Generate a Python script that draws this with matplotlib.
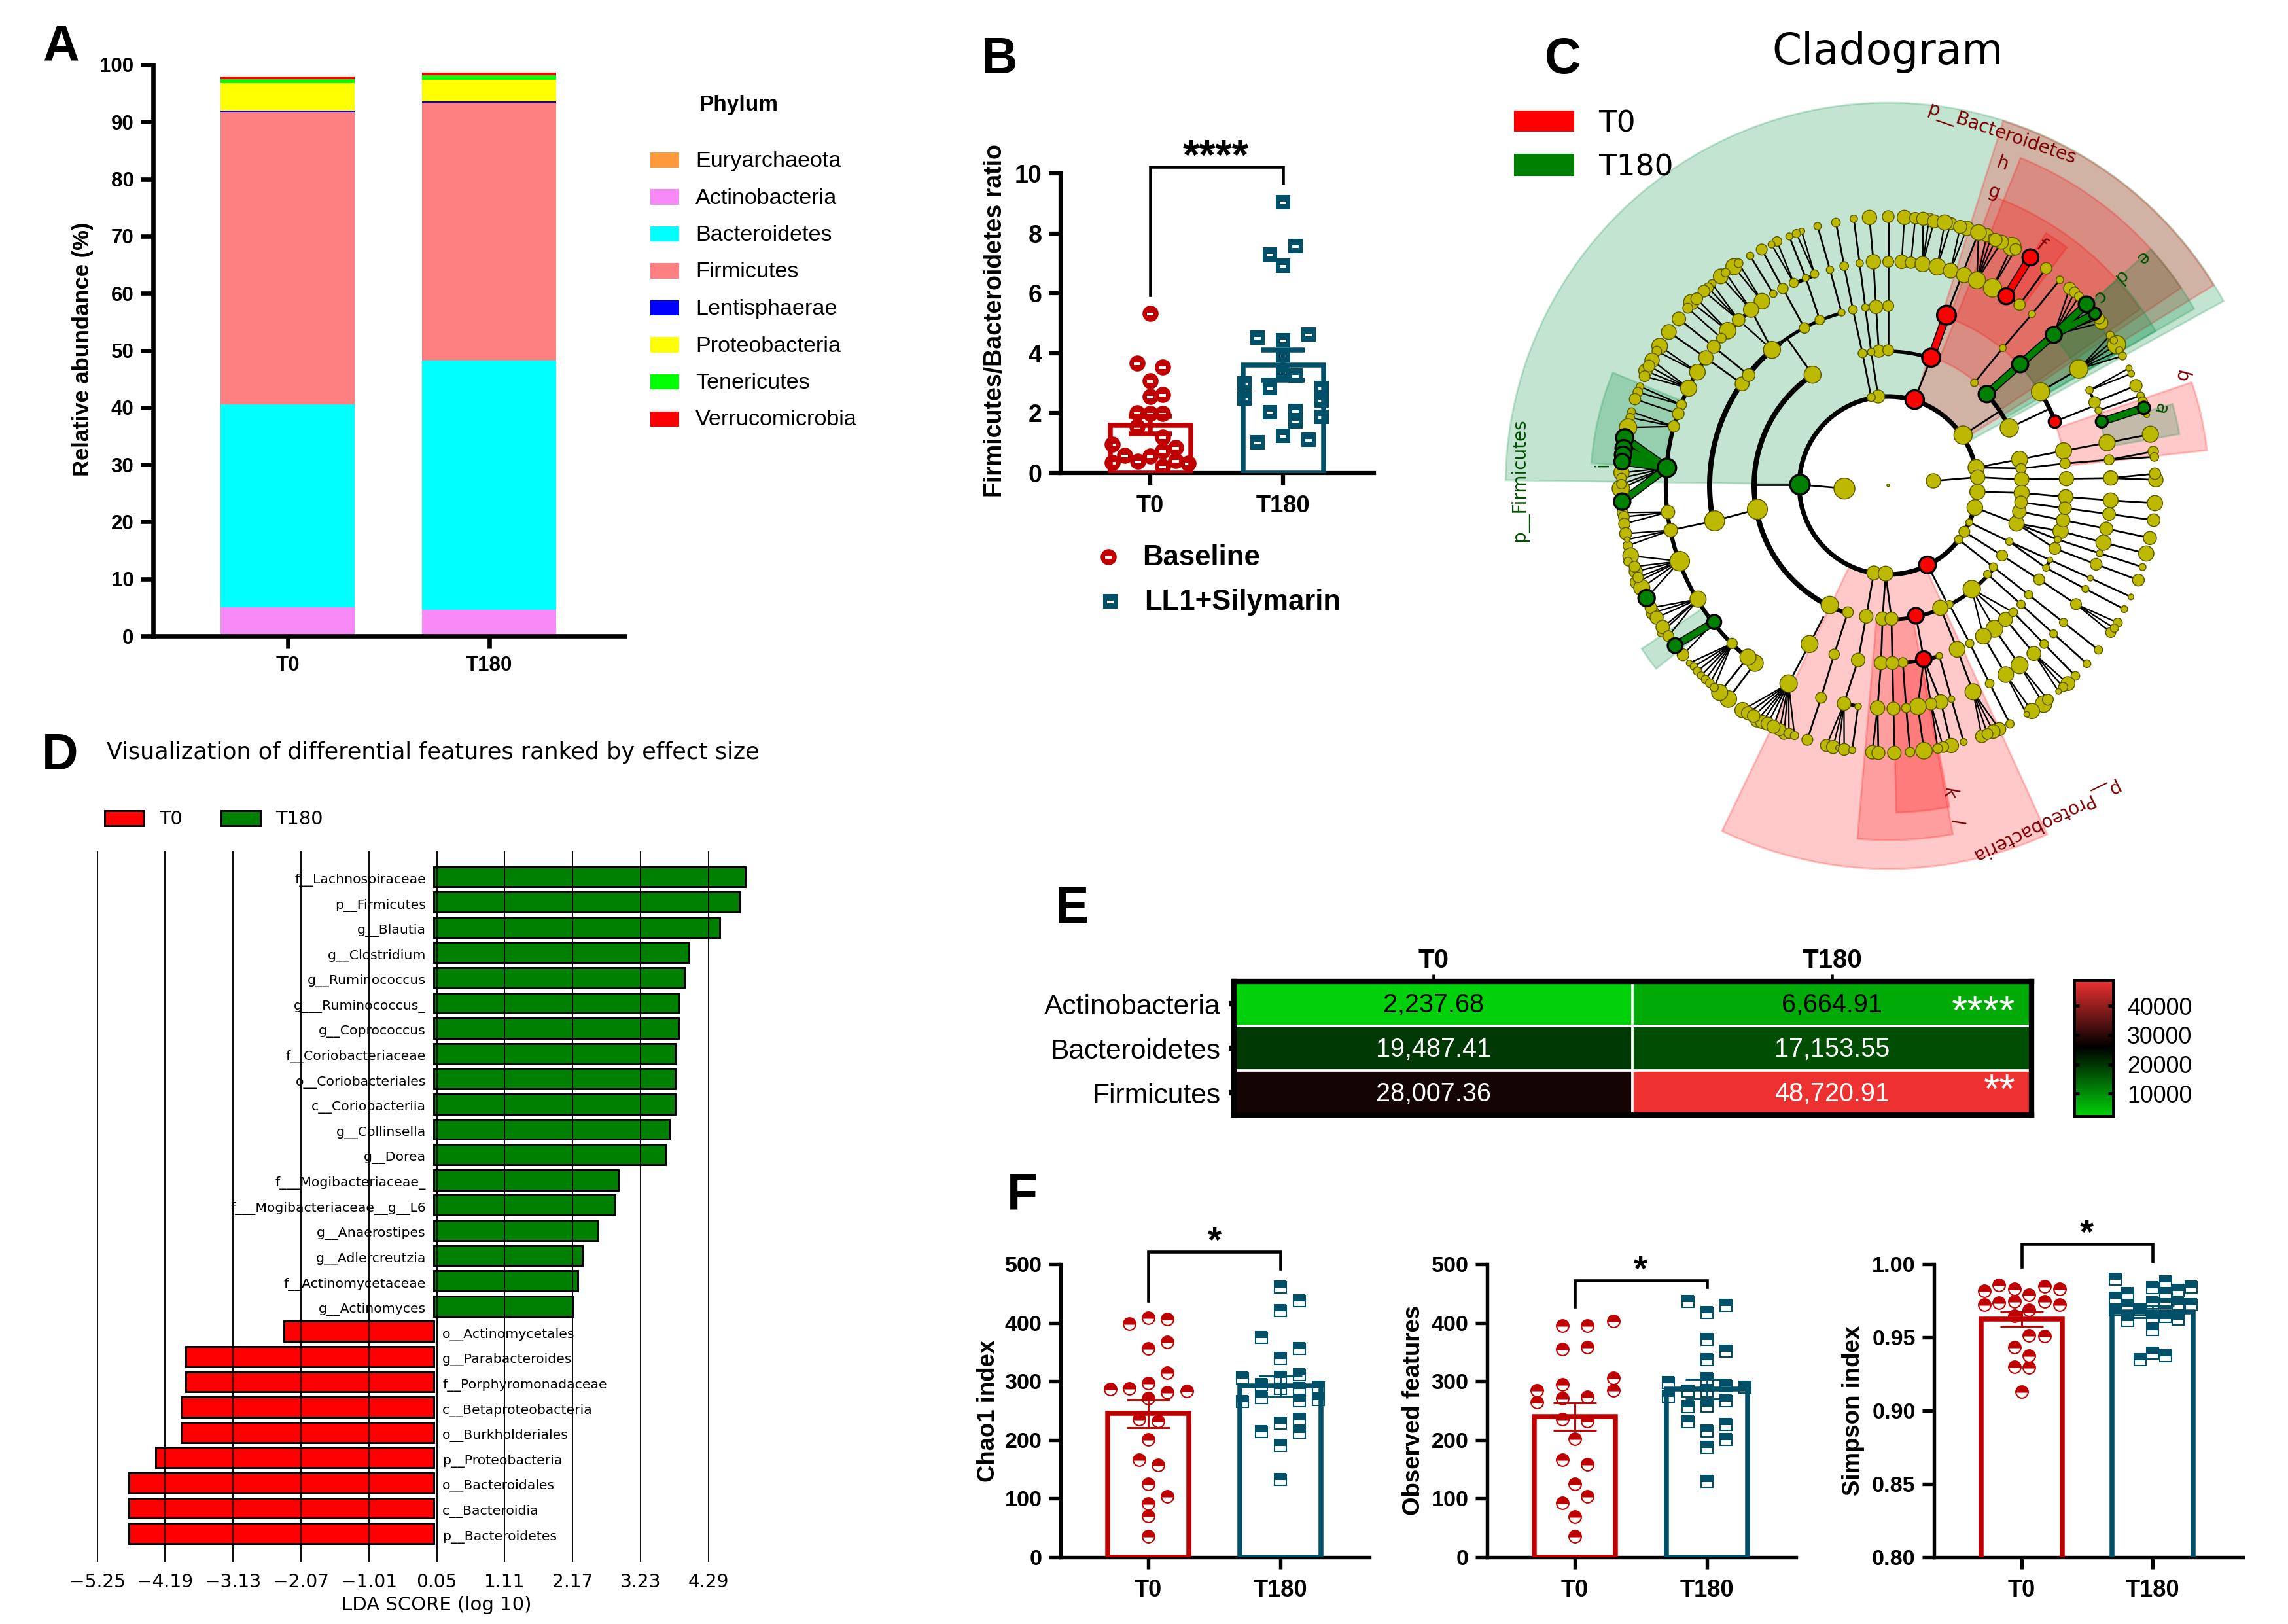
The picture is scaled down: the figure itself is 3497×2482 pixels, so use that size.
import numpy as np
import matplotlib
matplotlib.use('Agg')
import matplotlib.pyplot as plt
from matplotlib.colors import LinearSegmentedColormap
from matplotlib.patches import Rectangle
from matplotlib.path import Path

W, H = 3497, 2482
plt.rcParams['font.family'] = ['Liberation Sans', 'DejaVu Sans']
fig = plt.figure(figsize=(W / 300, H / 300), dpi=300, facecolor='white')

RED = '#C00000'
TEAL = '#00506A'

# panel A
phyla = ['Euryarchaeota', 'Actinobacteria', 'Bacteroidetes', 'Firmicutes',
         'Lentisphaerae', 'Proteobacteria', 'Tenericutes', 'Verrucomicrobia']
phyla_colors = ['#FF9A3C', '#F78AF7', '#00FFFF', '#FF8080', '#0000FF', '#FFFF00', '#00FF00', '#FF0000']
groups = ['T0', 'T180']
abund_t0 = [0.01, 5.0, 35.5, 51.2, 0.25, 4.85, 0.7, 0.4]
abund_t180 = [0.01, 4.6, 43.6, 45.2, 0.2, 3.7, 0.9, 0.4]

# panel B
b_t0_x = [0, -.1, .095, 0, 0, .095, -.1, 0, .095, -.1, .095, -.288, .193, .095, -.193, 0, -.288, -.095, .193, .288, .095]
b_t0_y = [5.32, 3.66, 3.54, 3.08, 2.56, 2.63, 2.0, 1.98, 1.98, 1.56, 1.2, .96, .86, .75, .58, .56, .36, .39, .42, .33, .22]
b_t180_x = [0, .095, -.098, 0, -.193, 0, .19, 0, 0, .095, -.29, -.098, .29, -.29, .29, -.098, .095, .29, .095, 0, -.193, .19]
b_t180_y = [9.05, 7.58, 7.3, 6.92, 4.51, 4.44, 4.62, 3.93, 3.36, 3.26, 3.0, 2.84, 2.84, 2.49, 2.42, 2.03, 2.07, 1.87, 1.73, 1.25, 1.03, 1.11]
b_means = [1.6, 3.6]
b_errs = [.3, .5]

# panel D
lda_names = ['f__Lachnospiraceae', 'p__Firmicutes', 'g__Blautia', 'g__Clostridium', 'g__Ruminococcus',
             'g___Ruminococcus_', 'g__Coprococcus', 'f__Coriobacteriaceae', 'o__Coriobacteriales',
             'c__Coriobacteriia', 'g__Collinsella', 'g__Dorea', 'f___Mogibacteriaceae_',
             'f___Mogibacteriaceae__g__L6', 'g__Anaerostipes', 'g__Adlercreutzia', 'f__Actinomycetaceae',
             'g__Actinomyces', 'o__Actinomycetales', 'g__Parabacteroides', 'f__Porphyromonadaceae',
             'c__Betaproteobacteria', 'o__Burkholderiales', 'p__Proteobacteria', 'o__Bacteroidales',
             'c__Bacteroidia', 'p__Bacteroidetes']
lda_scores = [4.87, 4.77, 4.47, 3.99, 3.92, 3.83, 3.82, 3.77, 3.77, 3.77, 3.68, 3.62, 2.88, 2.83, 2.57, 2.32,
              2.25, 2.18, -2.34, -3.87, -3.87, -3.94, -3.94, -4.34, -4.76, -4.76, -4.76]
lda_ticks = [-5.25, -4.19, -3.13, -2.07, -1.01, 0.05, 1.11, 2.17, 3.23, 4.29]

# panel E
heat_rows = ['Actinobacteria', 'Bacteroidetes', 'Firmicutes']
heat_t0 = [2237.68, 19487.41, 28007.36]
heat_t180 = [6664.91, 17153.55, 48720.91]

# panel F
chao_t0_x = [-.285, -.142, 0, .146, .29, -.142, 0, .146, .146, 0, .146, 0, -.07, .076, 0, -.07, .076, 0, .146, 0, 0, 0]
chao_t0_y = [287, 288, 297, 281, 284, 398, 408, 406, 367, 356, 315, 271, 236, 232, 201, 166, 157, 125, 104, 92, 70, 36]
chao_t180_x = [0, .142, 0, -.146, .142, 0, -.288, 0, .142, -.146, .285, 0, .142, -.288, -.146, .142, .285, 0, .142, -.146, .142, 0, 0]
chao_t180_y = [461, 438, 421, 375, 356, 339, 306, 307, 311, 295, 290, 288, 288, 266, 272, 267, 269, 229, 236, 214, 213, 191, 133]
obs_t0_x = [-.285, -.285, -.095, .095, .29, -.095, .095, .29, .29, -.095, -.095, .095, -.095, .095, 0, -.095, .095, 0, .095, -.095, 0, 0]
obs_t0_y = [285, 264, 395, 395, 403, 355, 358, 306, 285, 295, 271, 273, 235, 232, 202, 166, 158, 125, 104, 93, 69, 36]
obs_t180_x = [-.142, 0, .145, 0, .145, 0, -.29, 0, .145, -.142, .288, 0, -.29, .145, -.142, 0, -.142, .145, 0, .145, 0, 0]
obs_t180_y = [436, 417, 430, 372, 352, 337, 298, 305, 292, 284, 290, 284, 274, 267, 257, 258, 231, 227, 215, 201, 187, 129]
simp_t0_x = [-.287, -.174, -.057, .057, .177, .29, -.287, -.174, -.057, .177, .29, .057, -.057, .057, .177, -.057, .057, -.057, .057, 0]
simp_t0_y = [.9815, .9857, .983, .979, .9847, .9829, .9725, .9735, .9745, .9747, .9723, .9688, .9646, .9512, .951, .9433, .9373, .93, .9294, .9128]
simp_t180_x = [-.287, -.287, -.19, 0, .1, .1, .197, .294, .1, 0, .197, .294, -.287, -.19, -.093, -.19, 0, .1, .197, 0, 0, -.093, .1]
simp_t180_y = [.9896, .9767, .9797, .984, .988, .9805, .982, .9845, .9741, .9735, .9727, .9725, .9688, .9715, .9688, .9618, .9638, .9642, .9626, .9552, .9393, .9349, .9373]

# panel C, node positions read per quadrant crop around the centre of the wheel (x, y, size)
q1_nodes = [(1222,67,66),(1308,63,54),(1150,73,34),(1068,90,40),(984,107,34),(911,130,28),(887,141,38),(854,154,32),
            (798,177,44),(773,191,32),(728,214,50),(675,243,34),(600,293,74),(622,277,40),(540,337,68),(562,320,40),
            (500,370,36),(483,390,46),(463,405,54),(405,455,70),(430,440,54),(389,483,46),(348,532,62),(302,592,68),
            (260,657,72),(247,680,44),(225,722,66),(195,770,62),(211,748,54),(191,795,50),(170,842,34),(160,868,44),
            (147,900,52),(131,958,36),(125,985,40),(115,1030,80),(85,1238,70),(85,1262,44),(82,1310,80),(85,1290,44),
            (1240,270,66),(1308,270,50),(1177,277,34),(1106,290,40),(1041,307,34),(970,326,38),(930,344,32),(875,367,42),
            (825,393,48),(781,417,34),(729,451,72),(679,490,70),(622,537,58),(572,586,76),(543,620,44),(508,660,60),
            (472,711,66),(433,776,72),(393,850,74),(360,926,46),(345,967,54),(325,1025,52),
            (1252,477,62),(1308,473,50),(1203,480,34),(1146,490,40),(1094,503,32),(994,537,44),(924,574,48),(775,674,78),
            (638,830,64),(668,790,58),(1265,680,56),(1308,676,50),(1230,684,34),(1190,690,40),(961,788,78),
            (1262,888,60),(1230,892,38),(1107,1310,96)]
q2_nodes = [(92,67,66),(142,70,52),(205,75,56),(178,73,60),(228,85,60),(305,95,56),(277,90,70),(378,117,66),(348,110,60),
            (470,148,60),(432,136,72),(490,157,26),(585,200,84),(537,180,64),(510,170,60),(602,213,52),
            (80,270,62),(122,274,52),(176,281,70),(243,293,76),(304,311,68),(366,331,70),(425,355,78),(496,390,84),
            (620,467,52),(742,300,52),(805,353,34),(850,392,56),(872,410,48),(893,430,42),(995,550,60),(985,530,50),
            (1065,650,84),(1036,607,36),(1052,630,34),(1078,677,34),(1092,702,36),(677,510,32),(892,762,84),(716,866,84),
            (543,666,32),(413,825,34),(573,1032,84),(361,1065,84),(1122,758,28),(1132,783,30),(1154,838,56),(941,859,34),
            (964,915,52),(982,952,32),(1175,884,34),(1185,912,44),(1203,972,26),(1220,1061,74),(1021,1100,74),(822,1137,74),
            (620,1176,74),(1233,1140,48),(1238,1165,40),(1031,1178,46),(829,1195,48),(627,1218,46),(421,1214,74),(428,1258,66),
            (225,1275,66),(1245,1270,66),(1241,1242,52),(1038,1262,66),(835,1265,66),(630,1268,66),(18,1295,12)]
q3_nodes = [(708,115,92),(512,168,92),(298,128,62),(311,211,62),(352,353,90),(436,527,74),(592,730,48),(697,820,76),(665,793,74),
            (90,130,50),(96,150,50),(98,182,52),(104,227,56),(114,282,44),(111,254,26),(127,328,72),(115,355,40),(150,400,60),
            (145,378,50),(155,450,60),(178,475,74),(161,427,48),(228,590,60),(220,567,54),(246,612,60),(268,680,40),(274,655,62),
            (300,697,50),(367,782,54),(396,820,28),(417,836,34),(433,857,38),(450,877,34),(470,895,38),(490,912,40),(575,985,76),
            (535,955,74),(510,932,38),(640,1036,70),(665,1050,60),(705,1085,56),(730,1090,60),(755,1098,60),(691,1063,58),
            (830,1145,50),(810,1125,56),(782,1112,60),(853,1142,46),(878,1152,38),(1040,554,80),(1123,587,50),(947,733,78),(851,914,80),
            (1242,407,64),(1296,410,68),(1207,606,62),(1282,617,62),(1060,780,48),(1170,806,62),(1275,820,62),(1000,979,50),
            (1105,1006,62),(1170,1019,30),(1259,1026,66),(937,1172,50),(1025,1198,56),(1055,1205,60),(1080,1209,26),(1106,1216,54),
            (1143,1219,32),(1235,1229,62),(1263,1232,60)]
q4_nodes = [(427,35,70),(415,107,72),(390,175,32),(367,218,50),(341,254,38),
            (630,40,70),(606,180,70),(619,125,62),(627,83,58),(573,263,34),(540,327,50),(500,380,38),(473,413,36),(401,481,80),
            (298,551,36),(257,567,70),(33,617,60),(832,58,66),(808,215,70),(820,165,62),(829,110,58),(795,254,32),(782,295,54),
            (759,347,26),(742,384,32),(710,437,50),(662,507,38),(627,551,38),(505,663,78),(454,697,72),(556,620,64),(591,587,40),
            (392,730,38),(334,757,72),(252,787,30),(85,817,44),(37,820,60),
            (1038,74,68),(1005,268,70),(1018,204,60),(1031,137,58),(988,317,32),(971,367,54),(945,431,26),(922,480,32),(879,550,50),
            (822,634,38),(776,686,36),(733,733,40),(686,776,64),(620,830,78),(557,873,72),(483,914,40),(407,952,74),(308,986,30),
            (259,998,66),(214,1008,54),(154,1019,76),(100,1026,42),(42,1029,60),
            (1241,87,70),(1235,165,58),(1218,247,60),(1201,318,70),(1184,380,32),(1165,440,54),(1131,517,26),(1100,573,32),(1070,635,42),
            (1038,680,46),(1055,660,38),(982,760,38),(929,823,36),(876,879,40),(842,914,64),(820,930,42),(799,950,26),(730,1008,76),
            (750,988,50),(677,1040,70),(653,1055,26),(576,1099,38),(527,1123,60),(500,1134,62),(447,1156,58),(473,1145,50),(364,1182,32),
            (307,1198,66),(270,1205,50),(245,1212,44),(182,1222,76),(118,1228,44),(46,1232,62)]
q1_green = [(100,1077,84),(95,1125,80),(92,1155,80),(88,1187,76),(293,1215,90),(903,1292,96)]
q2_green = [(470,877,80),(623,740,78),(777,605,78),(965,508,58),(927,465,76),(997,1003,58),(1190,940,60)]
q3_green = [(88,80,80),(200,522,80),(331,740,72),(510,632,68)]
q2_red = [(670,250,78),(559,428,78),(285,515,92),(215,710,88),(139,902,90),(782,1003,60)]
q4_red = [(198,370,82),(145,603,76),(181,802,76)]

# black links between nodes: chains of nodes, then parents with a fan of children
q1_chains = [[(1230,892),(1190,690),(1146,490),(1106,290),(1068,90)],
             [(1262,888),(1230,684),(1203,480),(1177,277),(1150,73)],
             [(1265,680),(1252,477),(1240,270),(1222,67)],
             [(1308,676),(1308,473),(1308,270),(1308,63)],
             [(1094,503),(1041,307),(984,107)],
             [(994,537),(930,344),(854,154)],
             [(924,574),(825,393),(728,214)],
             [(850,630),(961,788)],
             [(781,417),(675,243)],[(775,674),(679,490)],[(668,790),(508,660),(348,532)],[(638,830),(472,711),(302,592)],
             [(903,1292),(700,1292)],[(903,1292),(1107,1310)]]
q1_fans = [((970,326),[(911,130),(887,141)]),((875,367),[(798,177),(773,191)]),((729,451),[(622,277),(600,293)]),
           ((679,490),[(540,337),(562,320)]),((622,537),[(500,370),(483,390),(463,405)]),((572,586),[(430,440),(405,455)]),
           ((543,620),[(389,483)]),((433,776),[(260,657),(247,680)]),((393,850),[(225,722),(211,748),(195,770),(191,795)]),
           ((360,926),[(170,842),(160,868)]),((345,967),[(147,900)]),((325,1025),[(131,958),(125,985),(115,1030)]),
           ((293,1215),[(85,1238),(85,1262),(85,1290),(82,1310)]),((775,674),[(622,537)])]
q2_chains = [[(139,902),(215,710)],[(285,515),(432,136)],[(413,825),(543,666),(677,510),(805,353)],[(559,428),(620,467),(742,300)],
             [(361,1065),(530,955)],[(573,1032),(745,950)],[(716,866),(892,762)],[(782,1003),(964,930)],
             [(225,1275),(428,1258),(630,1268),(835,1265),(1038,1262),(1241,1242)],[(1038,1262),(1245,1270)],
             [(421,1214),(620,1176),(822,1137),(1021,1100),(1220,1061)],[(421,1214),(627,1218),(829,1195),(1031,1178),(1233,1140)],
             [(1031,1178),(1238,1165)],[(20,270),(20,65)],[(964,915),(1154,838)],[(982,952),(1175,884)]]
q2_fans = [((80,270),[(92,67)]),((122,274),[(142,70)]),((176,281),[(178,73),(205,75),(228,85)]),((243,293),[(277,90),(305,95)]),
           ((304,311),[(348,110),(378,117)]),((425,355),[(432,136),(470,148),(490,157),(510,170),(537,180)]),
           ((496,390),[(585,200),(602,213)]),((777,605),[(850,392),(872,410),(893,430),(985,530),(995,550)]),
           ((892,762),[(1036,607),(1052,630),(1065,650),(1078,677),(1092,702)]),((941,859),[(1122,758),(1132,783)])]
q3_chains = [[(708,115),(512,168),(311,211)],[(1010,610),(947,733),(851,914)],[(1123,587),(1060,780),(1000,979),(937,1172)],
             [(1242,407),(1207,606),(1170,806),(1105,1006)],[(1296,410),(1282,617),(1275,820),(1259,1026),(1235,1229)],
             [(1259,1026),(1263,1232)],[(1170,1019),(1143,1219)],[(1296,410),(1323,617),(1327,820),(1332,1029),(1336,1232)],
             [(1375,817),(1390,1026),(1408,1228)],[(665,793),(535,955)],[(697,820),(575,985)]]
q3_fans = [((298,128),[(90,130),(96,150),(98,182)]),((311,211),[(104,227),(111,254),(114,282)]),
           ((352,353),[(127,328),(145,378),(150,400),(161,427),(155,450),(178,475),(200,522)]),
           ((436,527),[(220,567),(228,590),(246,612),(268,680),(274,655),(300,697)]),((510,632),[(367,782)]),
           ((592,730),[(396,820),(417,836),(433,857),(450,877),(470,895),(490,912),(510,932)]),
           ((851,914),[(640,1036),(665,1050),(691,1063),(705,1085),(730,1090),(755,1098),(782,1112),(810,1125),(830,1145),(853,1142),(878,1152)]),
           ((1105,1006),[(1025,1198),(1055,1205),(1080,1209),(1106,1216)])]
q4_chains = [[(427,35),(630,40),(832,58),(1038,74),(1241,87)],[(415,107),(606,180),(808,215),(1005,268),(1201,318)],
             [(390,175),(573,263),(742,384),(922,480),(1100,573)],[(367,218),(540,327),(710,437),(879,550)],
             [(341,254),(500,380),(662,507),(822,634),(982,760)],[(473,413),(627,551),(776,686),(929,823)],
             [(627,83),(829,110),(1031,137),(1235,165)],[(619,125),(820,165),(1018,204),(1218,247)],
             [(606,180),(795,254),(988,317),(1184,380)],[(606,180),(782,295),(971,367),(1165,440)],
             [(573,263),(759,347),(945,431),(1131,517)],[(591,587),(733,733),(876,879)],[(298,551),(392,730),(483,914),(576,1099)],
             [(257,567),(334,757),(407,952)],[(252,787),(308,986),(364,1182)],[(259,998),(307,1198)],[(181,802),(154,1019),(182,1222)],
             [(181,802),(214,1008)],[(181,802),(259,998)],[(198,370),(280,530)],[(505,663),(620,830)],[(454,697),(557,873)],[(556,620),(686,776)],
             [(145,603),(181,802)]]
q4_fans = [((879,550),[(1070,635),(1055,660),(1038,680)]),((401,481),[(505,663),(556,620),(454,697),(591,587)]),
           ((620,830),[(730,1008),(750,988)]),((557,873),[(677,1040),(653,1055)]),((686,776),[(842,914),(820,930),(799,950)]),
           ((407,952),[(527,1123),(500,1134),(473,1145),(447,1156)]),((214,1008),[(270,1205),(245,1212)])]
q1_green_links = [((293,1215),[(100,1077),(95,1125),(92,1155),(88,1187),(88,1370)])]
q2_green_links = [((470,877),[(623,740)]),((623,740),[(777,605)]),((777,605),[(927,465),(965,508)]),((997,1003),[(1190,940)])]
q3_green_links = [((510,632),[(331,740)])]
q2_red_links = [((215,710),[(285,515)]),((559,428),[(670,250)])]

# thick rings of the wheel: radius, from angle, to angle, width
arc_r = [136, 205, 273, 273, 340, 205, 205, 273, 340, 205, 272, 340, 340, 205, 340, 272]
arc_a0 = [0, 124.6, 105, 127, 124, 71, 25, 21, 16.6, -93, -89, 58, 109, 244, 258.5, -27.7]
arc_a1 = [360, 244, 127, 191.5, 233, 101, 42.6, 31.5, 25.3, -38, -73, 88, 115, 252.5, 262.2, -24.7]
arc_w = [1.7, 1.9, 1.2, 1.9, 1.5, 1.3, 1.6, 1.6, 1.0, 1.4, 1.4, 1.0, 1.3, 1.6, 1.2, 1.2]

# shaded sectors: radius in, radius out, from angle, to angle, colour
wedge_r0 = [136, 136, 207, 272, 340, 204, 272, 340, 272, 338, 338, 338, 136, 204, 272]
wedge_r1 = [585, 584, 540, 470, 455, 540, 472, 405, 490, 452, 455, 452, 586, 542, 500]
wedge_a0 = [28.8, 31.6, 34, 35, 53.1, 30, 30, 30, 6.3, 10, 157.7, 213.5, 244.3, 265, 271.4]
wedge_a1 = [179.2, 72.5, 68, 70, 58, 42, 42, 42, 18.8, 16, 175.7, 218.3, 294.5, 280.5, 280.8]
wedge_c = ['g', 'r', 'r', 'r', 'r', 'g', 'g', 'g', 'r', 'g', 'g', 'g', 'r', 'r', 'r']


def px_axes(x0, y0, x1, y1):
    return fig.add_axes([x0 / W, 1 - y1 / H, (x1 - x0) / W, (y1 - y0) / H])


def px_text(x, y, s, **kw):
    return fig.text(x / W, 1 - y / H, s, **kw)


def stars(x, y, s, size, color='black', weight='bold'):
    # asterisks sit high in the line, so place by baseline
    px_text(x, y + 0.55 * size * 300 / 72, s, fontsize=size, fontweight=weight, ha='center', va='baseline', color=color)


def dash_marker():
    # white slit inside the markers of panel B, outer points fix the scale
    return Path([(-.5, -.5), (-.5, -.5), (.5, .5), (.5, .5), (-.24, -.14), (.24, -.14), (.24, .06), (-.24, .06), (-.24, -.14)],
                [Path.MOVETO, Path.LINETO, Path.MOVETO, Path.LINETO, Path.MOVETO, Path.LINETO, Path.LINETO, Path.LINETO, Path.CLOSEPOLY])


def draw_axis_style(ax, spine=1.5, tick=4.3, size=7.6, pad=2.5, xsize=None):
    for s in ['top', 'right']:
        ax.spines[s].set_visible(False)
    for s in ['left', 'bottom']:
        ax.spines[s].set_linewidth(spine)
    ax.tick_params(width=spine, length=tick, labelsize=size, pad=pad)
    if xsize:
        ax.tick_params(axis='x', labelsize=xsize, pad=pad + 1)
    for t in ax.get_xticklabels() + ax.get_yticklabels():
        t.set_fontweight('bold')
    ax.patch.set_alpha(0)


def dot_panel(left, top, right, bottom, xt0, xt180, ylim, yticks, yfmt, x0s, y0s, x1s, y1s, means, errs,
              bracket, bar_w, ms, half, size, lw, elw):
    ax = px_axes(left, top, right, bottom)
    unit = xt180 - xt0
    ax.set_xlim((left - xt0) / unit, (right - xt0) / unit)
    ax.set_ylim(*ylim)
    ax.set_yticks(yticks)
    ax.set_yticklabels([yfmt % v for v in yticks])
    ax.set_xticks([0, 1])
    ax.set_xticklabels(groups)
    if half:
        ax.plot(x0s, y0s, 'o', ms=ms, mfc=RED, mfcalt='white', mec=RED, mew=.5, fillstyle='top', clip_on=False, zorder=2)
        ax.plot(np.array(x1s) + 1, y1s, 's', ms=ms, mfc=TEAL, mfcalt='white', mec=TEAL, mew=.5, fillstyle='top', clip_on=False, zorder=2)
    else:
        ax.plot(x0s, y0s, 'o', ms=ms, mfc=RED, mec=RED, mew=.5, clip_on=False, zorder=2)
        ax.plot(x0s, y0s, ls='', marker=dash_marker(), ms=ms, mfc='white', mec='none', mew=0, clip_on=False, zorder=2.1)
        ax.plot(np.array(x1s) + 1, y1s, 's', ms=ms * .93, mfc=TEAL, mec=TEAL, mew=.5, clip_on=False, zorder=2)
        ax.plot(np.array(x1s) + 1, y1s, ls='', marker=dash_marker(), ms=ms, mfc='white', mec='none', mew=0, clip_on=False, zorder=2.1)
    ax.bar([0, 1], means, width=bar_w / unit, facecolor='none', edgecolor=[RED, TEAL], linewidth=lw, zorder=3)
    for i, c in enumerate([RED, TEAL]):
        ax.errorbar(i, means[i], yerr=errs[i], color=c, elinewidth=elw, capthick=elw, capsize=7.9, zorder=4)
    top_y, drop0, drop1 = bracket
    ax.plot([0, 0, 1, 1], [drop0, top_y, top_y, drop1], color='black', lw=1.1, clip_on=False, solid_joinstyle='miter', zorder=5)
    draw_axis_style(ax, spine=1.3 if half else 1.5, size=size, xsize=8.7, pad=2.5)
    return ax


# panel A
ax_a = px_axes(234, 99, 955, 972)
x_pos = np.array([0, 1])
bottom = np.zeros(2)
for i, name in enumerate(phyla):
    vals = np.array([abund_t0[i], abund_t180[i]])
    ax_a.bar(x_pos, vals, bottom=bottom, width=.666, color=phyla_colors[i], linewidth=0, zorder=2)
    bottom = bottom + vals
ax_a.set_xlim((234 - 439.5) / 308, (955 - 439.5) / 308)
ax_a.set_ylim(0, 100)
ax_a.set_yticks(np.arange(0, 101, 10))
ax_a.set_xticks(x_pos)
ax_a.set_xticklabels(groups)
draw_axis_style(ax_a, spine=1.6, tick=4.6, size=7.5, pad=2.5)
px_text(127, 534, 'Relative abundance (%)', rotation=90, fontsize=8.3, fontweight='bold', ha='center', va='center')
px_text(1069, 161, 'Phylum', fontsize=8, fontweight='bold', va='center')
for i, name in enumerate(phyla):
    y = 244.5 + 56.5 * i
    fig.add_artist(Rectangle((994 / W, 1 - (y + 11.5) / H), 44 / W, 23 / H, transform=fig.transFigure,
                             facecolor=phyla_colors[i], edgecolor='none'))
    px_text(1063, y + 2, name, fontsize=8.2, va='center')

# panel B
dot_panel(1621, 265, 2100, 723, 1758, 1961, (0, 10), [0, 2, 4, 6, 8, 10], '%d', b_t0_x, b_t0_y, b_t180_x, b_t180_y,
          b_means, b_errs, (10.22, 5.93, 9.67), 123, 5.4, False, 9, 1.8, 1.8)
px_text(1521, 490, 'Firmicutes/Bacteroidetes ratio', rotation=90, fontsize=9, fontweight='bold', ha='center', va='center')
stars(1858, 223, '****', 15.5)
ax_b_legend = px_axes(1680, 835, 1710, 935)
ax_b_legend.set_xlim(0, 1)
ax_b_legend.set_ylim(1, 0)
ax_b_legend.axis('off')
ax_b_legend.plot([.45], [.16], 'o', ms=5.4, mfc=RED, mec=RED, mew=.5, clip_on=False)
ax_b_legend.plot([.45], [.16], ls='', marker=dash_marker(), ms=5.4, mfc='white', mec='none', mew=0, clip_on=False)
ax_b_legend.plot([.55], [.84], 's', ms=5, mfc=TEAL, mec=TEAL, mew=.5, clip_on=False)
ax_b_legend.plot([.55], [.84], ls='', marker=dash_marker(), ms=5.4, mfc='white', mec='none', mew=0, clip_on=False)
px_text(1746, 853, 'Baseline', fontsize=10.5, fontweight='bold', va='center')
px_text(1749, 921, 'LL1+Silymarin', fontsize=10.5, fontweight='bold', va='center')

# panel C
ax_c = px_axes(2250, 0, 3497, 1350)
ax_c.set_xlim(2250, 3497)
ax_c.set_ylim(1350, 0)
ax_c.axis('off')
cx, cy = 2886, 742
origins = {1: (2450, 310), 2: (2880, 310), 3: (2450, 740), 4: (2880, 740)}


def crop_xy(points, q):
    ox, oy = origins[q]
    pts = np.array(points, dtype=float)
    return ox + pts[:, 0] / 3, oy + pts[:, 1] / 3


for r0, r1, a0, a1, c in zip(wedge_r0, wedge_r1, wedge_a0, wedge_a1, wedge_c):
    a = np.radians(np.linspace(a0, a1, 80))
    xs = np.r_[cx + r1 * np.cos(a), cx + r0 * np.cos(a[::-1])]
    ys = np.r_[cy - r1 * np.sin(a), cy - r0 * np.sin(a[::-1])]
    rgb = (0, .55, .25) if c == 'g' else (1, 0, 0)
    ax_c.fill(xs, ys, facecolor=rgb + (.23 if c == 'g' else .21,), edgecolor=rgb + (.22,), lw=.7, zorder=1)

for r, a0, a1, w in zip(arc_r, arc_a0, arc_a1, arc_w):
    a = np.radians(np.linspace(a0, a1, 200))
    ax_c.plot(cx + r * np.cos(a), cy - r * np.sin(a), color='black', lw=w, solid_capstyle='butt', zorder=2)

for q, chains, fans in [(1, q1_chains, q1_fans), (2, q2_chains, q2_fans), (3, q3_chains, q3_fans), (4, q4_chains, q4_fans)]:
    for chain in chains:
        xs, ys = crop_xy(chain, q)
        ax_c.plot(xs, ys, color='black', lw=.65, zorder=2)
    for parent, kids in fans:
        for kid in kids:
            xs, ys = crop_xy([parent, kid], q)
            ax_c.plot(xs, ys, color='black', lw=.55, zorder=2)

for q, links, col in [(1, q1_green_links, 'green'), (2, q2_green_links, 'green'), (3, q3_green_links, 'green'), (2, q2_red_links, 'red')]:
    for parent, kids in links:
        for kid in kids:
            xs, ys = crop_xy([parent, kid], q)
            ax_c.plot(xs, ys, color='black', lw=3, solid_capstyle='butt', zorder=2.2)
            ax_c.plot(xs, ys, color=col, lw=2.2, solid_capstyle='butt', zorder=2.3)

for q, nodes in [(1, q1_nodes), (2, q2_nodes), (3, q3_nodes), (4, q4_nodes)]:
    xs, ys = crop_xy([n[:2] for n in nodes], q)
    ax_c.scatter(xs, ys, s=[(n[2] * .08) ** 2 for n in nodes], c='#BDB800', edgecolors='#5a5800', linewidths=.35, zorder=3)
for q, nodes, col in [(1, q1_green, 'green'), (2, q2_green, 'green'), (3, q3_green, 'green'), (2, q2_red, 'red'), (4, q4_red, 'red')]:
    xs, ys = crop_xy([n[:2] for n in nodes], q)
    ax_c.scatter(xs, ys, s=[(n[2] * .075) ** 2 for n in nodes], c=col, edgecolors='black', linewidths=.8, zorder=3.2)

px_text(2885, 80, 'Cladogram', family='DejaVu Sans', fontsize=15.5, ha='center', va='center')
for y0, y1, col, lab in [(169, 201, 'red', 'T0'), (235, 269, 'green', 'T180')]:
    fig.add_artist(Rectangle((2314 / W, 1 - y1 / H), 92 / W, (y1 - y0) / H, transform=fig.transFigure, facecolor=col, edgecolor='none'))
    px_text(2443, (y0 + y1) / 2 + 4, lab, family='DejaVu Sans', fontsize=10.9, va='center')
DARK_R, DARK_G = '#7A0000', '#005000'
clade_labels = ['p__Bacteroidetes', 'p__Firmicutes', 'p__Proteobacteria', 'h', 'g', 'f', 'e', 'd', 'c', 'b', 'a', 'i', 'k', 'l']
clade_x = [3060, 2323, 3125, 3061, 3048, 3119, 3274, 3241, 3208, 3333, 3302, 2449, 2978, 2988]
clade_y = [205, 734, 1255, 250, 294, 375, 394, 423, 453, 575, 624, 710, 1212, 1257]
clade_rot = [-19, 90, 206, -20, -20, -38, -137, -137, -137, -105, -105, 90, -100, -100]
clade_col = [DARK_R, DARK_G, DARK_R, DARK_R, DARK_R, DARK_R, DARK_G, DARK_G, DARK_G, DARK_R, DARK_G, DARK_G, DARK_R, DARK_R]
for s, x, y, rot, col in zip(clade_labels, clade_x, clade_y, clade_rot, clade_col):
    px_text(x, y, s, family='DejaVu Sans', fontsize=6.7, rotation=rot, rotation_mode='anchor', ha='center', va='center', color=col)

# panel D
ax_d = px_axes(100, 1301, 1200, 2387)
ax_d.set_xlim((100 - 667.5) / 97.9 + .05, (1200 - 667.5) / 97.9 + .05)
row_top = (1301 - 1340) / 38.6
row_bot = (2387 - 1340) / 38.6
ax_d.set_ylim(row_bot, row_top)
rows = np.arange(len(lda_names))
ax_d.barh(rows, lda_scores, height=.8, color=['green' if v > 0 else 'red' for v in lda_scores], edgecolor='black', linewidth=.7, zorder=2)
ax_d.vlines(lda_ticks, row_top, row_bot, color='black', lw=.45, zorder=3)
for i, name in enumerate(lda_names):
    if lda_scores[i] > 0:
        ax_d.text(-.12, i + .13, name, family='DejaVu Sans', fontsize=4.9, ha='right', va='center', zorder=4)
    else:
        ax_d.text(.14, i + .13, name, family='DejaVu Sans', fontsize=4.9, ha='left', va='center', zorder=4)
ax_d.set_xticks(lda_ticks)
ax_d.set_xticklabels(['%.2f' % v if v > 0 else '\u2212%.2f' % abs(v) for v in lda_ticks], family='DejaVu Sans', fontsize=6.75)
ax_d.set_yticks([])
ax_d.tick_params(axis='x', length=0, pad=4)
for s in ax_d.spines.values():
    s.set_visible(False)
ax_d.patch.set_alpha(0)
px_text(667, 2453, 'LDA SCORE (log 10)', family='DejaVu Sans', fontsize=7, ha='center', va='center')
px_text(163, 1150, 'Visualization of differential features ranked by effect size', family='DejaVu Sans', fontsize=8.4, va='center')
for x0, col, tx, lab in [(160, 'red', 243, 'T0'), (338, 'green', 421, 'T180')]:
    fig.add_artist(Rectangle((x0 / W, 1 - 1262 / H), 60 / W, 23 / H, transform=fig.transFigure, facecolor=col, edgecolor='black', linewidth=.7))
    px_text(tx, 1252, lab, family='DejaVu Sans', fontsize=6.9, va='center')

# panel E
ax_e = px_axes(1886, 1500, 3105, 1704)
cmap = LinearSegmentedColormap.from_list('heat', [(0, (0, .82, .04)), (.51, (0, 0, 0)), (1, (.93, .19, .19))])
heat = np.array([heat_t0, heat_t180]).T
mesh = ax_e.pcolormesh(heat, cmap=cmap, vmin=2237, vmax=48720)
ax_e.set_ylim(3, 0)
ax_e.hlines([1, 2], 0, 2, color='white', lw=.9)
ax_e.vlines([1], 0, 3, color='white', lw=.9)
for s in ax_e.spines.values():
    s.set_linewidth(2)
ax_e.xaxis.tick_top()
ax_e.set_xticks([.5, 1.5])
ax_e.set_xticklabels(groups, fontsize=9.7, fontweight='bold')
ax_e.set_yticks([.5, 1.5, 2.5])
ax_e.set_yticklabels(heat_rows, fontsize=10.2)
ax_e.tick_params(axis='x', width=1.1, length=2.6, pad=.5)
ax_e.tick_params(axis='y', width=2, length=2, pad=3)
for i in range(3):
    for j in range(2):
        ax_e.text(j + .5, i + .53, '{:,.2f}'.format(heat[i, j]), fontsize=9.5, ha='center', va='center',
                  color='black' if i == 0 else 'white')
stars(3032, 1530, '****', 15, 'white', 'normal')
stars(3056, 1650, '**', 15, 'white', 'normal')
cax = px_axes(3170, 1498, 3230, 1706)
cb = fig.colorbar(mesh, cax=cax, ticks=[10000, 20000, 30000, 40000])
cb.outline.set_linewidth(1.2)
cax.tick_params(direction='in', length=2, width=1.2, left=True, right=True, labelsize=8.6, pad=5)

# panel F
dot_panel(1621, 1932, 2093, 2380, 1755, 1957, (0, 500), [0, 100, 200, 300, 400, 500], '%d', chao_t0_x, chao_t0_y, chao_t180_x, chao_t180_y,
          [245, 292], [24.5, 17.5], (521, 438, 492), 124, 4.5, True, 8.2, 1.8, .7)
px_text(1510, 2156, 'Chao1 index', rotation=90, fontsize=8.8, fontweight='bold', ha='center', va='center')
stars(1856, 1883, '*', 13)
dot_panel(2273, 1932, 2745, 2380, 2407, 2609, (0, 500), [0, 100, 200, 300, 400, 500], '%d', obs_t0_x, obs_t0_y, obs_t180_x, obs_t180_y,
          [240, 287], [23.5, 16.5], (472, 428, 461), 124, 4.5, True, 8.2, 1.8, .7)
px_text(2160, 2155, 'Observed features', rotation=90, fontsize=8.8, fontweight='bold', ha='center', va='center')
stars(2507, 1927, '*', 13)
dot_panel(2956, 1932, 3428, 2380, 3090, 3290, (.8, 1), [.8, .85, .9, .95, 1], '%.2f', simp_t0_x, simp_t0_y, simp_t180_x, simp_t180_y,
          [.9625, .9675], [.0049, .004], (1.0137, .998, 1.0016), 124, 4.5, True, 8.2, 1.8, .7)
px_text(2832, 2156, 'Simpson index', rotation=90, fontsize=8.8, fontweight='bold', ha='center', va='center')
stars(3189, 1871, '*', 13)

# panel letters
for s, x, y in [('A', 65, 93), ('B', 1500, 112), ('C', 2361, 112), ('D', 64, 1176), ('E', 1613, 1410), ('F', 1539, 1849)]:
    px_text(x, y, s, fontsize=18.5, fontweight='bold', va='baseline')

fig.savefig('out.png', dpi=300, facecolor='white')
